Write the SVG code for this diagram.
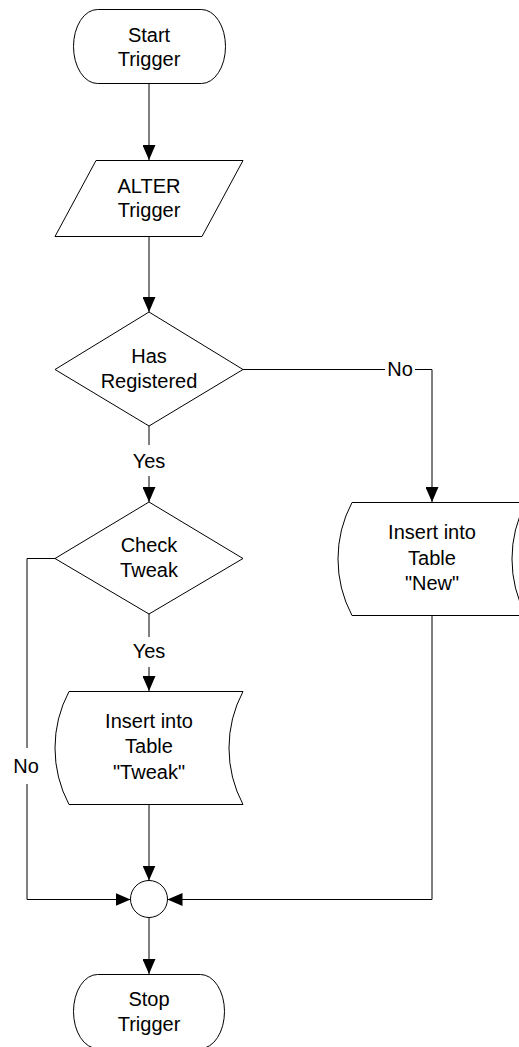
<svg xmlns="http://www.w3.org/2000/svg" width="519" height="1047" viewBox="0 0 519 1047">
  <style>
    .shape { fill: #fff; stroke: #000; stroke-width: 1; }
    .conn { fill: none; stroke: #000; stroke-width: 1; }
    .lbl { font-family: "Liberation Sans", Arial, sans-serif; font-size: 20px; fill: #000; text-anchor: middle; }
  </style>
  <defs>
    <marker id="arrow" markerUnits="userSpaceOnUse" markerWidth="15" markerHeight="13" refX="15" refY="6.5" orient="auto">
      <path d="M0,0 L15,6.5 L0,13 Z" fill="#000"/>
    </marker>
  </defs>
  <rect width="519" height="1047" fill="#fff"/>

  <!-- connectors -->
  <g id="connectors">
    <path class="conn" d="M149,83 V160" marker-end="url(#arrow)"/>
    <path class="conn" d="M149,236 V312" marker-end="url(#arrow)"/>
    <path class="conn" d="M149,426 V445"/>
    <path class="conn" d="M149,476 V502" marker-end="url(#arrow)"/>
    <text class="lbl" x="149" y="468">Yes</text>
    <path class="conn" d="M243,369.5 H385"/>
    <path class="conn" d="M415,369.5 H432 V502" marker-end="url(#arrow)"/>
    <text class="lbl" x="400" y="376">No</text>
    <path class="conn" d="M149,614 V637"/>
    <path class="conn" d="M149,667 V691" marker-end="url(#arrow)"/>
    <text class="lbl" x="149" y="658">Yes</text>
    <path class="conn" d="M55,558.5 H27 V748"/>
    <path class="conn" d="M27,784 V899.5 H130.5" marker-end="url(#arrow)"/>
    <text class="lbl" x="26" y="773">No</text>
    <path class="conn" d="M149,804 V880.5" marker-end="url(#arrow)"/>
    <path class="conn" d="M432,615 V899.5 H167.5" marker-end="url(#arrow)"/>
    <path class="conn" d="M149,917.5 V974" marker-end="url(#arrow)"/>
  </g>

  <g id="start">
    <rect class="shape" x="73.5" y="9.5" width="152" height="74" rx="24" ry="37"/>
    <text class="lbl" x="149" y="42">Start</text>
    <text class="lbl" x="149" y="66">Trigger</text>
  </g>

  <g id="alter">
    <polygon class="shape" points="96,160.5 243,160.5 202,236.5 55,236.5"/>
    <text class="lbl" x="149" y="193">ALTER</text>
    <text class="lbl" x="149" y="217">Trigger</text>
  </g>

  <g id="has-registered">
    <polygon class="shape" points="149,312 243,369.5 149,426 55,369.5"/>
    <text class="lbl" x="149" y="363">Has</text>
    <text class="lbl" x="149" y="388">Registered</text>
  </g>

  <g id="check-tweak">
    <polygon class="shape" points="149,502 243,558.5 149,614 55,558.5"/>
    <text class="lbl" x="149" y="552">Check</text>
    <text class="lbl" x="149" y="577">Tweak</text>
  </g>

  <g id="insert-new">
    <path class="shape" d="M352,502.5 H526 A121,121 0 0 0 526,615.5 H352 A121,121 0 0 1 352,502.5 Z"/>
    <text class="lbl" x="432" y="539">Insert into</text>
    <text class="lbl" x="432" y="565">Table</text>
    <text class="lbl" x="432" y="590">"New"</text>
  </g>

  <g id="insert-tweak">
    <path class="shape" d="M69,691.5 H243 A121,121 0 0 0 243,804.5 H69 A121,121 0 0 1 69,691.5 Z"/>
    <text class="lbl" x="149" y="728">Insert into</text>
    <text class="lbl" x="149" y="753">Table</text>
    <text class="lbl" x="149" y="779">"Tweak"</text>
  </g>

  <g id="merge">
    <circle class="shape" cx="149" cy="899" r="18.5"/>
  </g>

  <g id="stop">
    <rect class="shape" x="73.5" y="974.5" width="151" height="74" rx="24" ry="37"/>
    <text class="lbl" x="149" y="1006">Stop</text>
    <text class="lbl" x="149" y="1031">Trigger</text>
  </g>
</svg>
